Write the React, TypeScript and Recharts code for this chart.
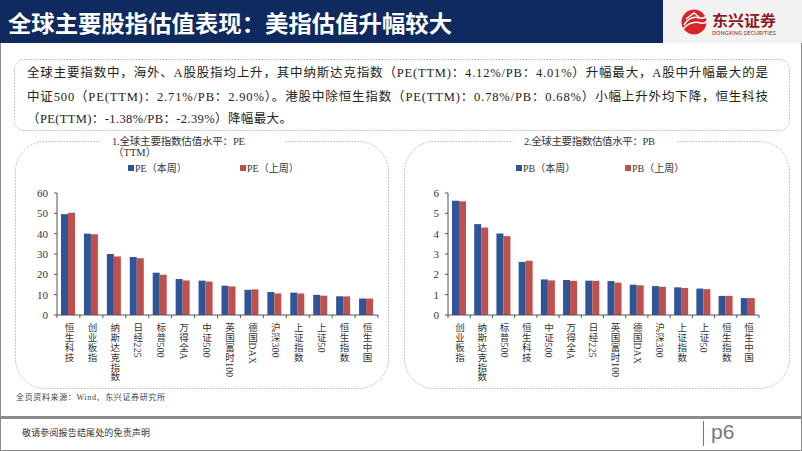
import React from 'react';
import { BarChart, Bar, XAxis, YAxis, Legend } from 'recharts';

const peCategories = ['恒生科技', '创业板指', '纳斯达克指数', '日经225', '标普500', '万得全A', '中证500', '英国富时100', '德国DAX', '沪深300', '上证指数', '上证50', '恒生指数', '恒生中国'];
const peThisWeek = [49.6, 40.0, 30.0, 28.5, 20.8, 17.7, 16.9, 14.4, 12.4, 11.3, 11.0, 9.9, 9.2, 8.1];
const peLastWeek = [50.3, 39.7, 28.8, 27.9, 19.8, 17.0, 16.45, 14.05, 12.6, 10.6, 10.6, 9.5, 9.15, 8.1];
const peTicks = [0, 10, 20, 30, 40, 50, 60];

const pbCategories = ['创业板指', '纳斯达克指数', '标普500', '恒生科技', '中证500', '万得全A', '日经225', '英国富时100', '德国DAX', '沪深300', '上证指数', '上证50', '恒生指数', '恒生中国'];
const pbThisWeek = [5.62, 4.47, 4.01, 2.61, 1.75, 1.72, 1.69, 1.67, 1.49, 1.42, 1.36, 1.30, 0.94, 0.83];
const pbLastWeek = [5.59, 4.30, 3.88, 2.67, 1.70, 1.68, 1.68, 1.59, 1.46, 1.39, 1.33, 1.27, 0.94, 0.83];
const pbTicks = [0, 1, 2, 3, 4, 5, 6];

const BLUE = '#2E5597';
const RED = '#C0504D';
const NAVY = '#0F2A5E';
const AXIS = '#555555';
const TEXT = '#333333';
const SERIF = '"Liberation Serif", "Noto Sans CJK SC", serif';
const CJK = '"Noto Sans CJK SC", sans-serif';

const peData = peCategories.map((name, i) => ({ name, cur: peThisWeek[i], prev: peLastWeek[i] }));
const pbData = pbCategories.map((name, i) => ({ name, cur: pbThisWeek[i], prev: pbLastWeek[i] }));

const makeTick = (band: number, count: number) => (props: any) => {
  const { x, y, payload, index } = props;
  return (
    <g>
      <line x1={x - band / 2} y1={y} x2={x - band / 2} y2={y + 3} stroke={AXIS} strokeWidth={1} />
      {index === count - 1 && (
        <line x1={x + band / 2} y1={y} x2={x + band / 2} y2={y + 3} stroke={AXIS} strokeWidth={1} />
      )}
      <text
        x={x}
        y={y + 8}
        textAnchor="start"
        style={{ writingMode: 'vertical-rl' as any, letterSpacing: '0.3px' }}
        fontSize={9.5}
        fill={TEXT}
        fontFamily={SERIF}
      >
        {payload.value}
      </text>
    </g>
  );
};

const ORDER: Record<string, number> = { cur: 0, prev: 1 };

const makeLegend = (gap: number) => (props: any) => {
  const payload = [...(props.payload || [])].sort(
    (a: any, b: any) => (ORDER[a.dataKey] ?? 0) - (ORDER[b.dataKey] ?? 0)
  );
  return (
    <svg width={200} height={14} style={{ display: 'block', overflow: 'visible' }}>
      {payload.map((p: any, i: number) => (
        <g key={i} transform={`translate(${i * gap},0)`}>
          <rect x={0} y={4} width={6} height={6} fill={p.color} />
          <text x={7} y={7} dominantBaseline="central" fontSize={10} fill={TEXT} fontFamily={SERIF}>
            {p.value}
          </text>
        </g>
      ))}
    </svg>
  );
};

function Panel(props: {
  left: number; width: number; data: any[]; ticks: number[]; max: number;
  yWidth: number; mRight: number; band: number; names: [string, string];
  legendLeft: number; legendGap: number;
}) {
  const { left, width, data, ticks, max, yWidth, mRight, band, names, legendLeft, legendGap } = props;
  return (
    <div style={{ position: 'absolute', left, top: 150 }}>
      <BarChart
        width={width}
        height={240}
        data={data}
        margin={{ top: 43, right: mRight, left: 0, bottom: 5 }}
        barGap={0}
        barSize={7}
      >
        <XAxis
          dataKey="name"
          interval={0}
          height={70}
          tickSize={0}
          tickMargin={0}
          tickLine={false}
          axisLine={{ stroke: AXIS, strokeWidth: 1 }}
          tick={makeTick(band, data.length)}
        />
        <YAxis
          width={yWidth}
          domain={[0, max]}
          ticks={ticks}
          interval={0}
          tickSize={3}
          tickMargin={6}
          axisLine={{ stroke: AXIS, strokeWidth: 1 }}
          tickLine={{ stroke: AXIS }}
          tick={{ fontSize: 11, fill: TEXT, fontFamily: SERIF }}
        />
        <Legend
          layout="horizontal"
          verticalAlign="middle"
          align="center"
          content={makeLegend(legendGap)}
          wrapperStyle={{ position: 'absolute', top: 11, left: legendLeft, width: 200, height: 14 }}
        />
        <Bar dataKey="cur" name={names[0]} fill={BLUE} isAnimationActive={false} />
        <Bar dataKey="prev" name={names[1]} fill={RED} isAnimationActive={false} />
      </BarChart>
    </div>
  );
}

export default function App() {
  const dash = '1.5 1.5';
  return (
    <div style={{ position: 'absolute', left: 0, top: 0, width: 802, height: 451, background: '#fff', overflow: 'hidden' }}>
      <svg width={802} height={451} style={{ position: 'absolute', left: 0, top: 0 }}>
        {/* header */}
        <rect x={0} y={0} width={663} height={43} fill={NAVY} />
        <rect x={663} y={0} width={139} height={43} fill="#f2f2f2" />
        <text x={8} y={22} dominantBaseline="central" fontSize={23} fontWeight={700} fill="#fff" fontFamily={CJK} textLength={444} lengthAdjust="spacingAndGlyphs">
          全球主要股指估值表现：美指估值升幅较大
        </text>
        {/* logo */}
        <circle cx={694} cy={22} r={12.5} fill="#d7262b" />
        <path d="M684 25 Q690 15 700 18 Q704 19 706 16" stroke="#fff" strokeWidth={1.6} fill="none" />
        <path d="M683 29 Q691 20 701 23 Q705 24 707 21" stroke="#fff" strokeWidth={1.6} fill="none" />
        <path d="M686 19 L694 13 L699 17" stroke="#fff" strokeWidth={1.4} fill="none" />
        <text x={712} y={19} dominantBaseline="central" fontSize={15} fontWeight={700} fill="#8e1b1f" fontFamily={CJK} textLength={64} lengthAdjust="spacingAndGlyphs">东兴证券</text>
        <text x={712} y={32} dominantBaseline="central" fontSize={5} fill="#8e1b1f" fontFamily={CJK} textLength={64} lengthAdjust="spacingAndGlyphs">DONGXING SECURITIES</text>

        {/* frame */}
        <line x1={0.5} y1={43} x2={0.5} y2={451} stroke="#8a8a8a" />
        <line x1={801.5} y1={43} x2={801.5} y2={451} stroke="#8a8a8a" />
        <line x1={0} y1={450.5} x2={802} y2={450.5} stroke="#8a8a8a" />

        {/* summary box */}
        <rect x={14.5} y={59.5} width={775} height={71} rx={10} fill="none" stroke="#b5b5b5" strokeDasharray={dash} />
        <text x={27} y={73} dominantBaseline="central" fontSize={12.5} fill="#222" fontFamily={SERIF} textLength={741} lengthAdjust="spacing">
          全球主要指数中，海外、A股股指均上升，其中纳斯达克指数（PE(TTM)：4.12%/PB：4.01%）升幅最大，A股中升幅最大的是
        </text>
        <text x={27} y={97} dominantBaseline="central" fontSize={12.5} fill="#222" fontFamily={SERIF} textLength={741} lengthAdjust="spacing">
          中证500（PE(TTM)：2.71%/PB：2.90%）。港股中除恒生指数（PE(TTM)：0.78%/PB：0.68%）小幅上升外均下降，恒生科技
        </text>
        <text x={27} y={119} dominantBaseline="central" fontSize={12.5} fill="#222" fontFamily={SERIF} textLength={265} lengthAdjust="spacing">
          （PE(TTM)：-1.38%/PB：-2.39%）降幅最大。
        </text>

        {/* panels */}
        <rect x={15.5} y={141.5} width={373} height={247} rx={30} fill="none" stroke="#b5b5b5" strokeDasharray={dash} />
        <rect x={404.5} y={141.5} width={385} height={247} rx={30} fill="none" stroke="#b5b5b5" strokeDasharray={dash} />
        <rect x={100} y={136} width={185} height={10} fill="#fff" />
        <rect x={513} y={136} width={163} height={10} fill="#fff" />
        <text x={112} y={141} dominantBaseline="central" fontSize={10.5} fill={TEXT} fontFamily={SERIF} textLength={133} lengthAdjust="spacing">
          1.全球主要指数估值水平：PE
        </text>
        <text x={113} y={152} dominantBaseline="central" fontSize={10.5} fill={TEXT} fontFamily={SERIF}>
          （TTM）
        </text>
        <text x={524} y={141} dominantBaseline="central" fontSize={10.5} fill={TEXT} fontFamily={SERIF} textLength={131} lengthAdjust="spacing">
          2.全球主要指数估值水平：PB
        </text>

        {/* source */}
        <text x={16} y={397} dominantBaseline="central" fontSize={8} fill="#444" fontFamily={SERIF} textLength={149} lengthAdjust="spacing">
          全页资料来源：Wind、东兴证券研究所
        </text>

        {/* footer */}
        <rect x={0} y={416} width={802} height={3} fill="#8c8c8c" />
        <text x={22} y={433} dominantBaseline="central" fontSize={9} fill="#333" fontFamily={SERIF} textLength={128} lengthAdjust="spacing">
          敬请参阅报告结尾处的免责声明
        </text>
        <line x1={703.5} y1={421} x2={703.5} y2={446} stroke="#777" />
        <text x={711} y={431} dominantBaseline="central" fontSize={21} fill="#777" fontFamily={'"Liberation Sans", sans-serif'}>
          p6
        </text>
      </svg>

      <Panel
        left={15}
        width={375}
        data={peData}
        ticks={peTicks}
        max={60}
        yWidth={42}
        mRight={12}
        band={321 / 14}
        names={['PE（本周）', 'PE（上周）']}
        legendLeft={113}
        legendGap={112}
      />
      <Panel
        left={404}
        width={370}
        data={pbData}
        ticks={pbTicks}
        max={6}
        yWidth={44}
        mRight={15}
        band={311 / 14}
        names={['PB（本周）', 'PB（上周）']}
        legendLeft={112}
        legendGap={109}
      />
    </div>
  );
}
